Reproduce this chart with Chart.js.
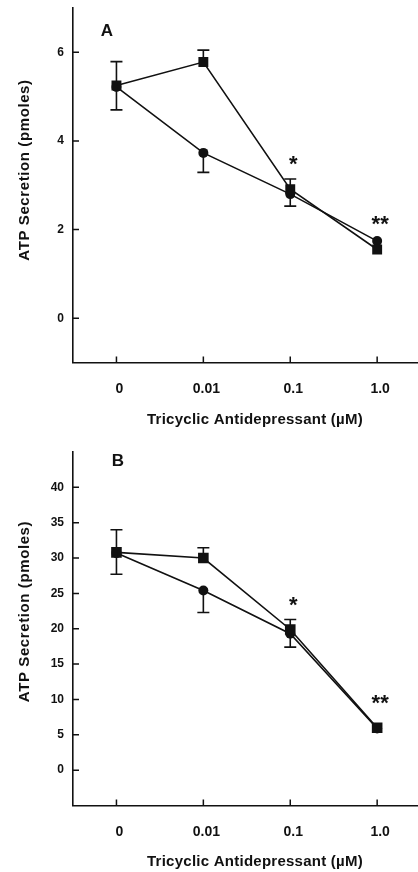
<!DOCTYPE html>
<html>
<head>
<meta charset="utf-8">
<script src="https://cdn.jsdelivr.net/npm/chart.js@4.4.1/dist/chart.umd.min.js"></script>
<style>
body { margin: 0; background: #fff; }
.panel { position: absolute; left: 0; width: 418px; }
#boxA { top: 0; height: 430px; }
#boxB { top: 430px; height: 442px; }
</style>
</head>
<body>
<div class="panel" id="boxA"><canvas id="chartA"></canvas></div>
<div class="panel" id="boxB"><canvas id="chartB"></canvas></div>
<script>
var doses = ['0', '0.01', '0.1', '1.0'];

// panel A
var squaresA = [5.25, 5.78, 2.91, 1.55];
var circlesA = [5.22, 3.73, 2.80, 1.74];
var squaresErrUpA = [0.54, 0.27, 0.23, 0];
var circlesErrDownA = [0.52, 0.44, 0.27, 0];
var starsA = ['', '', '*', '**'];
var starsYA = [null, null, 3.61, 2.24];
var yTicksA = [0, 2, 4, 6];

// panel B
var squaresB = [30.8, 30.0, 19.9, 6.0];
var circlesB = [30.7, 25.4, 19.3, 5.9];
var squaresErrUpB = [3.2, 1.45, 1.4, 0];
var circlesErrDownB = [3.0, 3.1, 1.9, 0];
var starsB = ['', '', '*', '**'];
var starsYB = [null, null, 24.2, 10.3];
var yTicksB = [0, 5, 10, 15, 20, 25, 30, 35, 40];

var INK = '#111';
var FONT = "'Liberation Sans', Arial, sans-serif";

function pts(arr) {
    return arr.map(function (v, i) { return { x: i, y: v }; });
}

// error bars, asterisks, inner tick marks, panel letter and axis titles
var decor = {
    id: 'decor',
    afterDatasetsDraw: function (chart, args, o) {
        var ctx = chart.ctx, xs = chart.scales.x, ys = chart.scales.y;
        ctx.save();
        ctx.strokeStyle = INK;
        ctx.lineWidth = 1.6;
        function bar(i, from, to) {
            var px = xs.getPixelForValue(i);
            var y1 = ys.getPixelForValue(from), y2 = ys.getPixelForValue(to);
            ctx.beginPath();
            ctx.moveTo(px, y1); ctx.lineTo(px, y2);
            ctx.moveTo(px - 6, y2); ctx.lineTo(px + 6, y2);
            ctx.stroke();
        }
        o.up.forEach(function (e, i) { if (e) bar(i, o.upVals[i], o.upVals[i] + e); });
        o.down.forEach(function (e, i) { if (e) bar(i, o.downVals[i], o.downVals[i] - e); });

        ctx.fillStyle = INK;
        ctx.font = 'bold 22px ' + FONT;
        ctx.textAlign = 'center';
        ctx.textBaseline = 'alphabetic';
        o.stars.forEach(function (s, i) {
            if (!s) return;
            ctx.fillText(s, xs.getPixelForValue(i) + 3, ys.getPixelForValue(o.starsY[i]) + 12.5);
        });
        ctx.restore();
    },
    afterDraw: function (chart, args, o) {
        var ctx = chart.ctx, xs = chart.scales.x, ys = chart.scales.y, a = chart.chartArea;
        ctx.save();
        ctx.strokeStyle = INK;
        ctx.lineWidth = 1.5;
        ctx.beginPath();
        xs.ticks.forEach(function (t) {
            var px = xs.getPixelForValue(t.value);
            ctx.moveTo(px, a.bottom); ctx.lineTo(px, a.bottom - 6);
        });
        ys.ticks.forEach(function (t) {
            var py = ys.getPixelForValue(t.value);
            ctx.moveTo(a.left, py); ctx.lineTo(a.left + 6, py);
        });
        ctx.stroke();

        ctx.fillStyle = INK;
        ctx.font = 'bold 17px ' + FONT;
        ctx.textAlign = 'center';
        ctx.textBaseline = 'middle';
        ctx.fillText(o.letter, a.left + o.letterDx, a.top + o.letterDy);

        ctx.font = 'bold 15px ' + FONT;
        ctx.letterSpacing = '0.25px';
        ctx.fillText('Tricyclic Antidepressant (\u00b5M)', 255, o.xTitleY);

        ctx.letterSpacing = '0.6px';
        ctx.translate(25, o.yTitleCenter);
        ctx.rotate(-Math.PI / 2);
        ctx.fillText('ATP Secretion (pmoles)', 0, 0);
        ctx.restore();
    }
};

function makePanel(id, p) {
    return new Chart(document.getElementById(id), {
        type: 'line',
        data: {
            datasets: [{
                data: pts(p.squares),
                pointStyle: 'rect',
                pointRadius: p.sqRadius,
                borderColor: INK,
                backgroundColor: INK,
                borderWidth: 1.6,
                pointBorderWidth: 0
            }, {
                data: pts(p.circles),
                pointStyle: 'circle',
                pointRadius: 5,
                borderColor: INK,
                backgroundColor: INK,
                borderWidth: 1.6,
                pointBorderWidth: 0
            }]
        },
        options: {
            responsive: true,
            maintainAspectRatio: false,
            animation: false,
            layout: { autoPadding: false, padding: { top: p.top, right: 0, bottom: 0, left: 0 } },
            plugins: {
                legend: { display: false },
                tooltip: { enabled: false },
                decor: {
                    up: p.errUp, upVals: p.squares,
                    down: p.errDown, downVals: p.circles,
                    stars: p.stars, starsY: p.starsY,
                    letter: p.letter, letterDx: p.letterDx, letterDy: p.letterDy,
                    yTitleCenter: p.yTitleCenter, xTitleY: p.xTitleY
                }
            },
            scales: {
                x: {
                    type: 'linear',
                    min: -0.5,
                    max: 3.47,
                    afterBuildTicks: function (s) {
                        s.ticks = doses.map(function (d, i) { return { value: i }; });
                    },
                    afterFit: function (s) {
                        s.height = p.xHeight;
                        s.paddingLeft = 0;
                        s.paddingRight = 0;
                    },
                    grid: { display: false, drawTicks: false },
                    border: { display: true, color: INK, width: 1.6 },
                    ticks: {
                        color: INK,
                        padding: 18,
                        labelOffset: 3,
                        maxRotation: 0,
                        autoSkip: false,
                        font: { family: FONT, size: 14, weight: 'bold' },
                        callback: function (v) { return doses[v]; }
                    }
                },
                y: {
                    min: p.yMin,
                    max: p.yMax,
                    afterBuildTicks: function (s) {
                        s.ticks = p.yTicks.map(function (v) { return { value: v }; });
                    },
                    afterFit: function (s) {
                        s.width = 73;
                        s.paddingTop = 0;
                        s.paddingBottom = 0;
                    },
                    grid: { display: false, drawTicks: false },
                    border: { display: true, color: INK, width: 1.6 },
                    ticks: {
                        color: INK,
                        padding: 9,
                        font: { family: FONT, size: 12, weight: 'bold' }
                    }
                }
            }
        },
        plugins: [decor]
    });
}

makePanel('chartA', {
    squares: squaresA, circles: circlesA,
    errUp: squaresErrUpA, errDown: circlesErrDownA,
    stars: starsA, starsY: starsYA,
    yTicks: yTicksA, yMin: -1, yMax: 7,
    top: 8, xHeight: 67.5, sqRadius: 7,
    letter: 'A', letterDx: 34, letterDy: 23.5,
    yTitleCenter: 170, xTitleY: 420
});

makePanel('chartB', {
    squares: squaresB, circles: circlesB,
    errUp: squaresErrUpB, errDown: circlesErrDownB,
    stars: starsB, starsY: starsYB,
    yTicks: yTicksB, yMin: -5, yMax: 45,
    top: 22, xHeight: 66.5, sqRadius: 7.5,
    letter: 'B', letterDx: 45, letterDy: 9,
    yTitleCenter: 181.5, xTitleY: 431.5
});
</script>
</body>
</html>
